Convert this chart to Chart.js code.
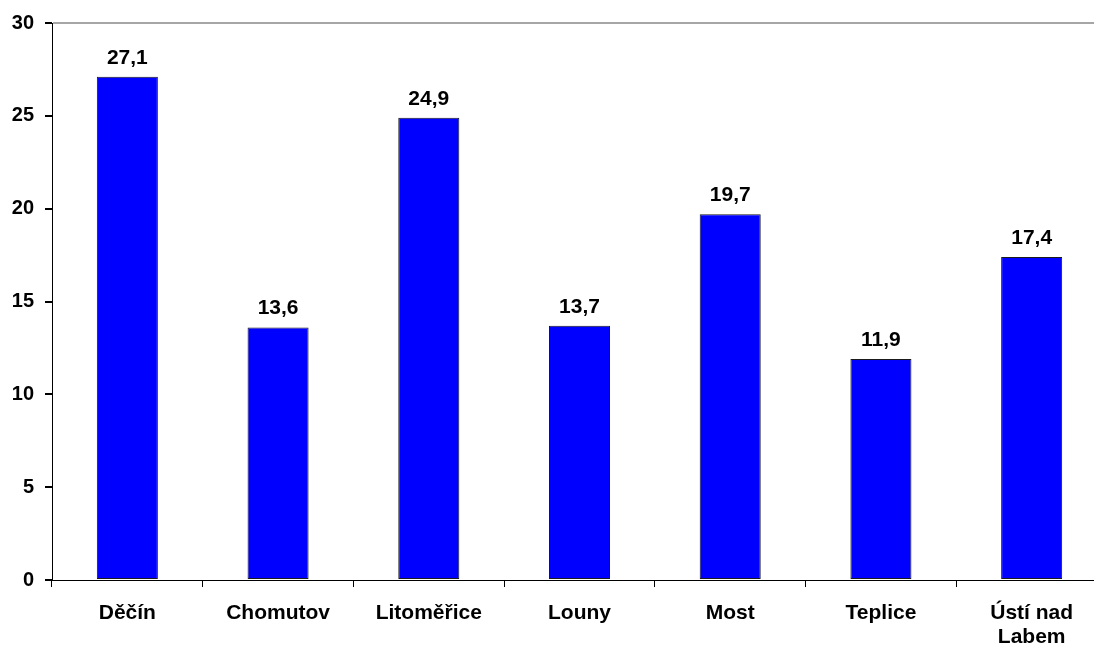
<!DOCTYPE html>
<html>
<head>
<meta charset="utf-8">
<script src="https://cdn.jsdelivr.net/npm/chart.js@4/dist/chart.umd.min.js"></script>
<style>
  html, body { margin: 0; padding: 0; background: #fff; overflow: hidden; }
  #wrap { position: relative; width: 1110px; height: 647px; }
</style>
</head>
<body>
<div id="wrap"><canvas id="myChart"></canvas></div>
<script>
const districts = ['Děčín', 'Chomutov', 'Litoměřice', 'Louny', 'Most', 'Teplice', ['Ústí nad', 'Labem']];
const values = [27.1, 13.6, 24.9, 13.7, 19.7, 11.9, 17.4];
const yTicks = [0, 5, 10, 15, 20, 25, 30];

// values over the bars, with a decimal comma
const barLabels = {
  id: 'barLabels',
  afterDatasetsDraw(chart) {
    const ctx = chart.ctx;
    const meta = chart.getDatasetMeta(0);
    ctx.save();
    ctx.font = 'bold 21px "Liberation Sans", Arial, sans-serif';
    ctx.fillStyle = '#000';
    ctx.textAlign = 'center';
    ctx.textBaseline = 'alphabetic';
    meta.data.forEach((bar, i) => {
      ctx.fillText(values[i].toFixed(1).replace('.', ','), bar.x, bar.y - 13);
    });
    ctx.restore();
  }
};

new Chart('myChart', {
  type: 'bar',
  data: {
    labels: districts,
    datasets: [{
      data: values,
      backgroundColor: '#0000ff',
      borderColor: '#1a1a1a',
      borderWidth: 1,
      borderSkipped: false,
      categoryPercentage: 1,
      barPercentage: 0.405
    }]
  },
  options: {
    responsive: true,
    maintainAspectRatio: false,
    animation: false,
    layout: { padding: { top: 20, right: 3, left: 0, bottom: 0 } },
    plugins: { legend: { display: false }, tooltip: { enabled: false } },
    scales: {
      x: {
        grid: {
          offset: true,
          color: 'rgba(0,0,0,0)',
          tickColor: '#000',
          tickLength: 7,
          drawOnChartArea: false
        },
        border: { display: true, color: '#000', width: 1 },
        ticks: {
          color: '#000',
          padding: 14,
          maxRotation: 0,
          autoSkip: false,
          font: { family: '"Liberation Sans", Arial, sans-serif', size: 21, weight: 'bold', lineHeight: 1.15 }
        },
        afterFit(scale) { scale.height = 67; }
      },
      y: {
        min: 0,
        max: 30,
        afterBuildTicks(scale) { scale.ticks = yTicks.map(v => ({ value: v })); },
        grid: {
          color: (c) => c.tick && c.tick.value === 30 ? '#a6a6a6' : 'rgba(0,0,0,0)',
          lineWidth: 2,
          tickColor: '#000',
          tickLength: 7
        },
        border: { display: true, color: '#000', width: 1 },
        ticks: {
          color: '#000',
          padding: 11,
          font: { family: '"Liberation Sans", Arial, sans-serif', size: 20, weight: 'bold' }
        },
        afterFit(scale) { scale.width = 52; }
      }
    }
  },
  plugins: [barLabels]
});
</script>
</body>
</html>
